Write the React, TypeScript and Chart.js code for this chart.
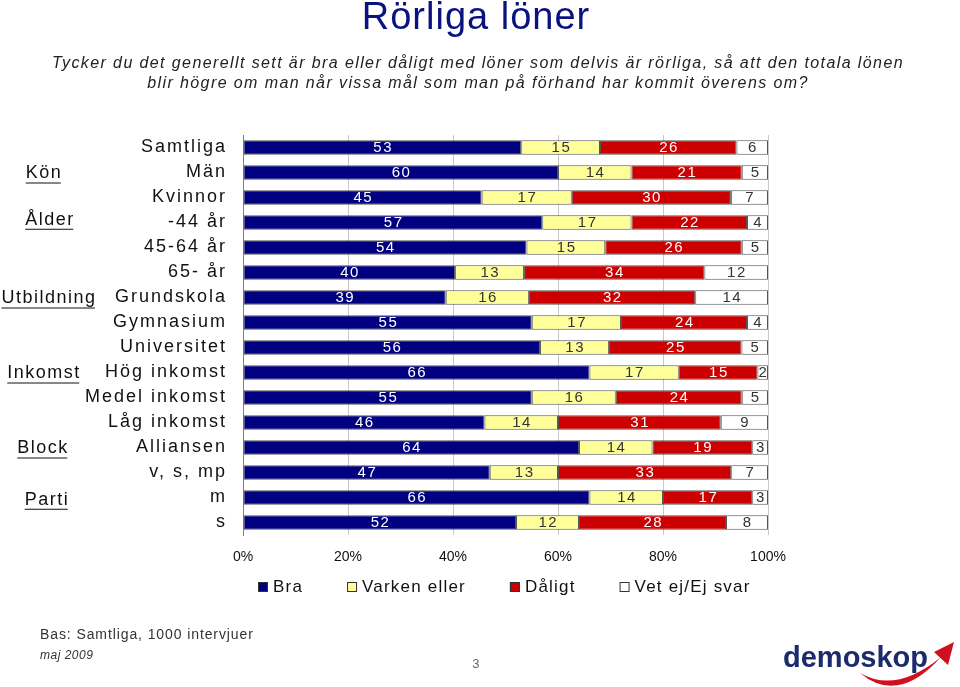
import React, { useEffect, useRef } from "react";
import { Chart, registerables } from "chart.js";
Chart.register(...registerables);

const FONT = '"Liberation Sans", Arial, sans-serif';

const categories = ["Samtliga", "Män", "Kvinnor", "-44 år", "45-64 år", "65- år", "Grundskola", "Gymnasium", "Universitet", "Hög inkomst", "Medel inkomst", "Låg inkomst", "Alliansen", "v, s, mp", "m", "s"];
const bra = [53, 60, 45, 57, 54, 40, 39, 55, 56, 66, 55, 46, 64, 47, 66, 52];
const varken = [15, 14, 17, 17, 15, 13, 16, 17, 13, 17, 16, 14, 14, 13, 14, 12];
const daligt = [26, 21, 30, 22, 26, 34, 32, 24, 25, 15, 24, 31, 19, 33, 17, 28];
const vetej = [6, 5, 7, 4, 5, 12, 14, 4, 5, 2, 5, 9, 3, 7, 3, 8];
const seriesNames = ["Bra", "Varken eller", "Dåligt", "Vet ej/Ej svar"];
const seriesColors = ["#000080", "#FFFF99", "#CC0000", "#FFFFFF"];
const labelColors = ["#FFFFFF", "#333333", "#FFFFFF", "#333333"];
const groupLabels = ["Kön", "Ålder", "Utbildning", "Inkomst", "Block", "Parti"];
const groupRows = [1, 2.85, 6, 9, 12, 14.05];
const groupCenters = [44, 50, 49, 44, 43, 47];
const xTickStep = 20;

const title = "Rörliga löner";
const subtitleLines = [
  "Tycker du det generellt sett är bra eller dåligt med löner som delvis är rörliga, så att den totala lönen",
  "blir högre om man når vissa mål som man på förhand har kommit överens om?",
];
const footerBase = "Bas: Samtliga, 1000 intervjuer";
const footerDate = "maj 2009";
const pageNo = "3";
const logoText = "demoskop";

const raw = [bra, varken, daligt, vetej];
const totals = categories.map((_, i) => raw.reduce((s, arr) => s + arr[i], 0));

const decorPlugin = {
  id: "decor",
  beforeDraw(chart: any) {
    chart.ctx.letterSpacing = "0px";
  },
  afterDatasetsDraw(chart: any) {
    const ctx = chart.ctx;
    ctx.save();
    ctx.letterSpacing = "1.5px";
    ctx.font = `15px ${FONT}`;
    ctx.textAlign = "center";
    ctx.textBaseline = "middle";
    chart.data.datasets.forEach((ds: any, di: number) => {
      const meta = chart.getDatasetMeta(di);
      meta.data.forEach((el: any, i: number) => {
        const cx = (el.x + el.base) / 2 + 0.75;
        ctx.fillStyle = labelColors[di];
        ctx.fillText(String(raw[di][i]), cx, el.y + 0.5);
      });
    });
    ctx.restore();
    // spacing for the y tick labels drawn next (z:1 layer)
    ctx.letterSpacing = "2px";
  },
  afterDraw(chart: any) {
    const ctx = chart.ctx;
    ctx.save();
    ctx.letterSpacing = "0px";
    const yScale = chart.scales.y;

    // Title
    ctx.textAlign = "center";
    ctx.textBaseline = "middle";
    ctx.fillStyle = "#0a1280";
    ctx.letterSpacing = "1px";
    ctx.font = `38px ${FONT}`;
    ctx.fillText(title, 476, 19);

    // Subtitle
    ctx.fillStyle = "#222222";
    ctx.letterSpacing = "1.4px";
    ctx.font = `italic 16px ${FONT}`;
    ctx.fillText(subtitleLines[0], 478, 64);
    ctx.fillText(subtitleLines[1], 478, 84);

    // Group labels (underlined)
    ctx.font = `18px ${FONT}`;
    ctx.letterSpacing = "1.5px";
    ctx.fillStyle = "#111111";
    ctx.strokeStyle = "#111111";
    ctx.lineWidth = 1;
    groupLabels.forEach((g, i) => {
      const y = yScale.getPixelForValue(groupRows[i]) + 1;
      const w = ctx.measureText(g).width;
      const cx = groupCenters[i];
      ctx.textAlign = "center";
      ctx.fillText(g, cx, y);
      ctx.beginPath();
      ctx.moveTo(cx - w / 2, y + 9.5);
      ctx.lineTo(cx + w / 2 - 1.5, y + 9.5);
      ctx.stroke();
    });

    // Legend
    ctx.font = `17px ${FONT}`;
    ctx.letterSpacing = "1.2px";
    ctx.textAlign = "left";
    let lx = 258;
    const ly = 587;
    seriesNames.forEach((name, i) => {
      ctx.fillStyle = seriesColors[i];
      ctx.fillRect(lx, ly - 5, 10, 10);
      ctx.strokeStyle = "#333333";
      ctx.strokeRect(lx + 0.5, ly - 4.5, 9, 9);
      ctx.fillStyle = "#111111";
      ctx.fillText(name, lx + 15, ly);
      lx += 15 + ctx.measureText(name).width + 44;
    });

    // Footer
    ctx.fillStyle = "#333333";
    ctx.font = `14px ${FONT}`;
    ctx.letterSpacing = "0.9px";
    ctx.fillText(footerBase, 40, 635);
    ctx.font = `italic 12px ${FONT}`;
    ctx.letterSpacing = "0.5px";
    ctx.fillText(footerDate, 40, 656);
    ctx.fillStyle = "#666666";
    ctx.font = `13px ${FONT}`;
    ctx.textAlign = "center";
    ctx.fillText(pageNo, 476, 664);

    // Logo
    ctx.letterSpacing = "0px";
    ctx.textAlign = "left";
    ctx.textBaseline = "alphabetic";
    ctx.fillStyle = "#1c2b6b";
    ctx.font = `bold 29px ${FONT}`;
    ctx.fillText(logoText, 783, 667);
    ctx.fillStyle = "#d0101e";
    ctx.beginPath();
    ctx.moveTo(860, 673);
    ctx.quadraticCurveTo(898, 705, 941, 657);
    ctx.quadraticCurveTo(896, 694, 860, 673);
    ctx.closePath();
    ctx.fill();
    ctx.beginPath();
    ctx.moveTo(934, 652);
    ctx.lineTo(954, 642);
    ctx.lineTo(948, 665);
    ctx.closePath();
    ctx.fill();

    ctx.restore();
    ctx.letterSpacing = "0px";
  },
};

export default function App() {
  const ref = useRef<HTMLCanvasElement>(null);
  useEffect(() => {
    const datasets = raw.map((arr, di) => ({
      label: seriesNames[di],
      data: arr.map((v, i) => (v / totals[i]) * 100),
      backgroundColor: seriesColors[di],
      borderColor: "#555555",
      borderWidth: 1,
      borderSkipped: false,
      barPercentage: 0.58,
      categoryPercentage: 1,
    }));
    const chart = new Chart(ref.current as HTMLCanvasElement, {
      type: "bar",
      data: { labels: categories, datasets },
      options: {
        indexAxis: "y",
        responsive: false,
        animation: false,
        layout: { padding: { left: 0, right: 192, top: 135, bottom: 112 } },
        plugins: {
          legend: { display: false },
          tooltip: { enabled: false },
        },
        scales: {
          x: {
            stacked: true,
            min: 0,
            max: 100,
            afterFit: (s: any) => {
              s.height = 40;
            },
            grid: { color: "#c8c8c8", drawTicks: false },
            border: { display: false },
            ticks: {
              stepSize: xTickStep,
              padding: 14,
              callback: (v: any) => v + "%",
              font: { family: FONT, size: 14 },
              color: "#111111",
            },
          },
          y: {
            stacked: true,
            afterFit: (s: any) => {
              s.width = 243;
            },
            grid: { display: false },
            border: { display: true, color: "#808080", width: 1 },
            ticks: {
              z: 1,
              autoSkip: false,
              padding: 8,
              font: { family: FONT, size: 18 },
              color: "#111111",
            },
          },
        },
      } as any,
      plugins: [decorPlugin as any],
    });
    return () => chart.destroy();
  }, []);
  return (
    <div style={{ position: "fixed", left: 0, top: 0, width: 960, height: 687, background: "#ffffff" }}>
      <canvas ref={ref} width={960} height={687} style={{ display: "block" }} />
    </div>
  );
}
